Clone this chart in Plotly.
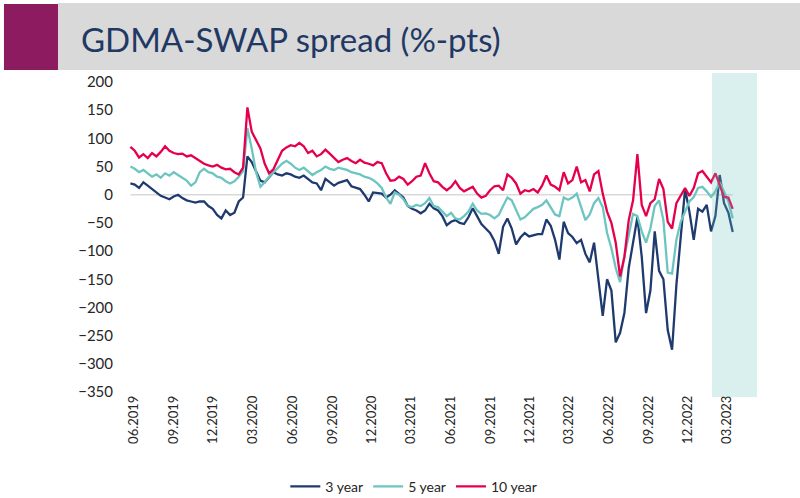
import pandas as pd
import plotly.graph_objects as go

# ---- data (~10-day spacing) ----
dates = pd.date_range("2019-05-24", periods=140, freq="10D")

y3 = [20, 18, 12, 22, 16, 10, 5, -2, -5, -8,
      -3, 0, -6, -10, -12, -14, -12, -12, -20, -25,
      -36, -42, -28, -36, -32, -12, -5, 68, 58, 40,
      25, 22, 32, 40, 36, 34, 38, 36, 32, 30,
      34, 28, 22, 20, 8, 28, 22, 16, 21, 24,
      26, 15, 12, 10, 0, -12, 4, 3, 2, -5,
      0, 8, 2, -5, -20, -25, -28, -33, -28, -16,
      -24, -28, -38, -54, -48, -45, -50, -52, -40, -24,
      -38, -52, -60, -68, -82, -105, -57, -42, -60, -88,
      -76, -68, -74, -72, -70, -70, -44, -55, -80, -115,
      -48, -68, -75, -86, -80, -105, -120, -85, -150, -215,
      -150, -170, -262, -245, -210, -130, -85, -40, -110, -210,
      -170, -65, -135, -150, -240, -275, -160, -75, 10, -30,
      -80, -25, -30, -18, -65, -38, 35, -15, -32, -66]

y5 = [50, 46, 40, 44, 38, 32, 36, 30, 38, 34,
      40, 35, 30, 25, 16, 22, 40, 46, 40, 38,
      32, 30, 24, 20, 24, 32, 42, 118, 82, 40,
      14, 22, 32, 40, 48, 55, 60, 55, 48, 44,
      48, 42, 35, 40, 44, 50, 46, 44, 48, 46,
      44, 40, 38, 36, 32, 30, 26, 20, 12, -5,
      -16, 4, 0, -8, -20, -22, -18, -20, -15, -6,
      -20, -22, -30, -38, -32, -42, -44, -38, -30, -16,
      -28, -34, -33, -36, -42, -36, -20, -5, -10, -28,
      -44, -40, -32, -25, -22, -18, -10, -22, -35, -38,
      -5, -9, -5, 2, -20, -45, -35, -15, -6, -22,
      -68, -95, -130, -155, -110, -75, -34, -38, -65, -85,
      -60, -20, -10, -45, -138, -140, -80, -48, -30, -12,
      -4, 12, 14, 6, -4, 6, 22, 5, -12, -42]

y10 = [85, 78, 66, 72, 65, 74, 68, 76, 86, 78,
       74, 72, 73, 68, 70, 65, 60, 55, 52, 50,
       53, 48, 45, 46, 40, 36, 48, 155, 112, 98,
       82, 55, 38, 45, 62, 78, 84, 88, 86, 92,
       86, 74, 78, 68, 72, 80, 73, 66, 58, 62,
       65, 60, 56, 62, 57, 55, 52, 58, 56, 38,
       25, 26, 32, 28, 18, 24, 32, 34, 56, 38,
       24, 22, 14, 8, 14, 24, 12, 6, 10, 14,
       2, -5, -2, 8, 15, 16, 8, 36, 30, 20,
       2, 8, 6, 10, 4, 16, 34, 18, 14, 8,
       40, 20, 26, 50, 22, 26, 6, 36, 42, 2,
       -30, -50, -85, -145, -110, -45, -10, 72, -18, -38,
       -15, -8, 28, 10, -48, -60, -15, -2, 12, -2,
       12, 38, 42, 32, 22, 38, 16, -4, -5, -25]

series_names = ["3 year", "5 year", "10 year"]
series_values = [y3, y5, y10]
series_colors = ["#1f3a6e", "#6cc5c0", "#e6004c"]

tick_dates = ["2019-06-01", "2019-09-01", "2019-12-01", "2020-03-01",
              "2020-06-01", "2020-09-01", "2020-12-01", "2021-03-01",
              "2021-06-01", "2021-09-01", "2021-12-01", "2022-03-01",
              "2022-06-01", "2022-09-01", "2022-12-01", "2023-03-01"]
tick_labels = ["06.2019", "09.2019", "12.2019", "03.2020", "06.2020", "09.2020",
               "12.2020", "03.2021", "06.2021", "09.2021", "12.2021", "03.2022",
               "06.2022", "09.2022", "12.2022", "03.2023"]

shade_start, shade_end = "2023-01-25", "2023-05-09"
title_text = "GDMA-SWAP spread (%-pts)"

FONT = "Lato"

fig = go.Figure()
for name, vals, col in zip(series_names, series_values, series_colors):
    fig.add_trace(go.Scatter(x=dates, y=vals, name=name, mode="lines",
                             line=dict(color=col, width=2.3)))

# zero reference line across data span
fig.add_shape(type="line", xref="x", yref="y", x0=dates[0], x1=dates[-1], y0=0, y1=0,
              line=dict(color="#d9d9d9", width=1.5), layer="below")

# header band + purple block
fig.add_shape(type="rect", xref="paper", yref="paper", x0=-0.0954, x1=1.05,
              y0=1.0387, y1=1.2548, fillcolor="#d9d9d9", line_width=0, layer="below")
fig.add_shape(type="rect", xref="paper", yref="paper", x0=-0.1785, x1=-0.0954,
              y0=1.0387, y1=1.2516, fillcolor="#8c1b5f", line_width=0, layer="below")

# highlighted (shaded) recent period, drawn on top
fig.add_shape(type="rect", xref="x", yref="paper", x0=shade_start, x1=shade_end,
              y0=-0.016, y1=1.029, fillcolor="#6cc5c0", opacity=0.25,
              line_width=0, layer="above")

fig.add_annotation(text=title_text, xref="paper", yref="paper", x=-0.063, y=1.140,
                   xanchor="left", yanchor="middle", showarrow=False,
                   font=dict(family=FONT, size=33, color="#1f3864"))

fig.update_layout(
    width=800, height=498,
    margin=dict(l=120, r=30, t=82, b=106, autoexpand=False),
    paper_bgcolor="white", plot_bgcolor="white",
    font=dict(family=FONT, size=14, color="#262626"),
    showlegend=True,
    legend=dict(orientation="h", x=0.452, xanchor="center", y=-0.306, yanchor="middle",
                font=dict(size=14, color="#262626"), itemwidth=30),
    xaxis=dict(type="date", range=["2019-04-30", "2023-06-08"],
               tickvals=tick_dates, ticktext=tick_labels, tickangle=-90,
               showgrid=False, zeroline=False, showline=False, ticks="",
               tickfont=dict(size=13), automargin=False),
    yaxis=dict(range=[-350, 200], dtick=50, tick0=0, showgrid=False, zeroline=False,
               showline=False, ticks="", tickfont=dict(size=15), automargin=False,
               ticklabelstandoff=6),
)

fig.write_html("out.html", config={"displayModeBar": False},
               post_script="document.body.style.margin='0px';")
